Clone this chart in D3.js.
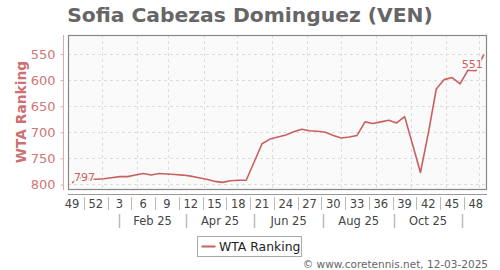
<!DOCTYPE html>
<html>
<head>
<meta charset="utf-8">
<script src="https://cdn.jsdelivr.net/npm/d3@7"></script>
<style>
  body { margin: 0; background: #fff; }
  svg { display: block; font-family: "DejaVu Sans", sans-serif; }
</style>
</head>
<body>
<div id="chart"></div>
<script>
// weekly ranking, week 49/2024 .. week 49/2025
const ranking = [797, 787, 789, 790, 789, 787, 785, 785, 782, 779,
	782, 779, 780, 781, 782, 784, 787, 790, 794, 796,
	793, 792, 792, 757, 722, 713, 709, 705, 699, 694,
	697, 698, 700, 706, 711, 709, 706, 680, 683, 680,
	677, 682, 670, 723, 777, 701, 617, 599, 595, 607,
	581, 582, 551];

const weekLabels = ["49", "52", "3", "6", "9", "12", "15", "18", "21", "24",
	"27", "30", "33", "36", "39", "42", "45", "48"];
const weekLabelIdx = [0, 3, 6, 9, 12, 15, 18, 21, 24, 27, 30, 33, 36, 39, 42, 45, 48, 51];

const monthLabels = ["Feb 25", "Apr 25", "Jun 25", "Aug 25", "Oct 25"];
const monthBounds = [5.93, 14.4, 23.0, 31.7, 40.7, 49.2];

const gridIdx = [3.75, 8.17, 12.12, 16.67, 20.83, 25.25, 29.63, 33.96, 38.38, 42.77, 47.18, 51.39];
const yTicks = [550, 600, 650, 700, 750, 800];

const W = 500, H = 270;
const plot = {left: 68, right: 487, top: 35, bottom: 190};
const lineColor = "#c9605f";

let svg = d3.select("#chart").append("svg")
	.attr("width", W)
	.attr("height", H);

let xScale = d3.scaleLinear()
	.domain([0, ranking.length - 1])
	.range([72, 483.8]);

let yScale = d3.scaleLinear()
	.domain([513.5, 810.6])
	.range([plot.top, plot.bottom]);

// title
svg.append("text")
	.attr("x", 250).attr("y", 22)
	.attr("text-anchor", "middle")
	.style("font-size", "20.3px")
	.style("font-weight", "bold")
	.style("fill", "#666")
	.text("Sofia Cabezas Dominguez (VEN)");

// plot background
svg.append("rect")
	.attr("x", plot.left).attr("y", plot.top)
	.attr("width", plot.right - plot.left)
	.attr("height", plot.bottom - plot.top)
	.style("fill", "#fafafa");

// grid
svg.append("g").selectAll("line")
	.data(yTicks)
	.enter().append("line")
	.attr("x1", plot.left).attr("x2", plot.right)
	.attr("y1", d => Math.round(yScale(d)) + 0.5)
	.attr("y2", d => Math.round(yScale(d)) + 0.5)
	.style("stroke", "#ddd")
	.style("stroke-dasharray", "3,3");

svg.append("g").selectAll("line")
	.data(gridIdx)
	.enter().append("line")
	.attr("x1", d => Math.round(xScale(d)) + 0.5)
	.attr("x2", d => Math.round(xScale(d)) + 0.5)
	.attr("y1", plot.top).attr("y2", plot.bottom)
	.style("stroke", "#ddd")
	.style("stroke-dasharray", "3,3");

// frame
svg.append("rect")
	.attr("x", plot.left + 0.5).attr("y", plot.top + 0.5)
	.attr("width", plot.right - plot.left - 1)
	.attr("height", plot.bottom - plot.top - 1)
	.style("fill", "none")
	.style("stroke", "#888")
	.style("stroke-width", 1.2);

// y axis
let yAxis = svg.append("g")
	.attr("transform", "translate(63.5,0)")
	.call(d3.axisLeft(yScale).tickValues(yTicks).tickSize(3).tickPadding(5));
yAxis.select(".domain").attr("d", "M0," + plot.top + "V" + plot.bottom).style("stroke", "#dcaaaa");
yAxis.selectAll(".tick line").style("stroke", "#dcaaaa");
yAxis.selectAll(".tick text")
	.style("font-size", "13px")
	.style("fill", "#cf7777")
	.style("font-family", "DejaVu Sans, sans-serif");

svg.append("text")
	.attr("transform", "translate(26,112) rotate(-90)")
	.attr("text-anchor", "middle")
	.style("font-size", "13.8px")
	.style("font-weight", "bold")
	.style("fill", "#cf7070")
	.text("WTA Ranking");

// x axis line
svg.append("line")
	.attr("x1", plot.left).attr("x2", plot.right)
	.attr("y1", 194.5).attr("y2", 194.5)
	.style("stroke", "#999");

// week labels
svg.append("g").selectAll("text")
	.data(weekLabels)
	.enter().append("text")
	.attr("x", (d, i) => xScale(weekLabelIdx[i]))
	.attr("y", 208)
	.attr("text-anchor", "middle")
	.style("font-size", "11.5px")
	.style("fill", "#444")
	.text(d => d);

svg.append("g").selectAll("line")
	.data(weekLabelIdx.slice(0, -1))
	.enter().append("line")
	.attr("x1", d => Math.round(xScale(d + 1.5)) + 0.5)
	.attr("x2", d => Math.round(xScale(d + 1.5)) + 0.5)
	.attr("y1", 197).attr("y2", 210)
	.style("stroke", "#bbb");

// month labels
svg.append("g").selectAll("text")
	.data(monthLabels)
	.enter().append("text")
	.attr("x", (d, i) => xScale((monthBounds[i] + monthBounds[i + 1]) / 2))
	.attr("y", 225)
	.attr("text-anchor", "middle")
	.style("font-size", "11.5px")
	.style("fill", "#444")
	.text(d => d);

svg.append("g").selectAll("line")
	.data(monthBounds)
	.enter().append("line")
	.attr("x1", d => Math.round(xScale(d)) + 0.5)
	.attr("x2", d => Math.round(xScale(d)) + 0.5)
	.attr("y1", 214).attr("y2", 228)
	.style("stroke", "#bbb")
	.style("stroke-width", 1.5);

// line
let line = d3.line()
	.x((d, i) => xScale(i))
	.y(d => yScale(d));

svg.append("path")
	.datum(ranking)
	.attr("d", line)
	.style("fill", "none")
	.style("stroke", lineColor)
	.style("stroke-width", 1.6)
	.style("stroke-linejoin", "round");

// first and last value labels
let n = ranking.length;
svg.append("text")
	.attr("x", xScale(0) + 2).attr("y", yScale(ranking[0]) - 2)
	.style("font-size", "11px")
	.style("fill", lineColor)
	.style("paint-order", "stroke")
	.style("stroke", "#fafafa")
	.style("stroke-width", 3)
	.text(ranking[0]);

svg.append("text")
	.attr("x", xScale(n - 1) - 1).attr("y", yScale(ranking[n - 1]) + 13)
	.attr("text-anchor", "end")
	.style("font-size", "11px")
	.style("fill", lineColor)
	.style("paint-order", "stroke")
	.style("stroke", "#fafafa")
	.style("stroke-width", 3)
	.text(ranking[n - 1]);

// legend
let lg = svg.append("g").attr("transform", "translate(197.5,236.5)");
lg.append("rect")
	.attr("width", 104).attr("height", 20)
	.style("fill", "#fff")
	.style("stroke", "#aaa");
lg.append("line")
	.attr("x1", 4).attr("x2", 18)
	.attr("y1", 10).attr("y2", 10)
	.style("stroke", lineColor)
	.style("stroke-width", 2);
lg.append("text")
	.attr("x", 21.5).attr("y", 14.5)
	.style("font-size", "12.4px")
	.style("fill", "#222")
	.text("WTA Ranking");

// credit
svg.append("text")
	.attr("x", 488).attr("y", 267.5)
	.attr("text-anchor", "end")
	.style("font-size", "10.5px")
	.style("fill", "#666")
	.text("\u00a9 www.coretennis.net, 12-03-2025");
</script>
</body>
</html>
